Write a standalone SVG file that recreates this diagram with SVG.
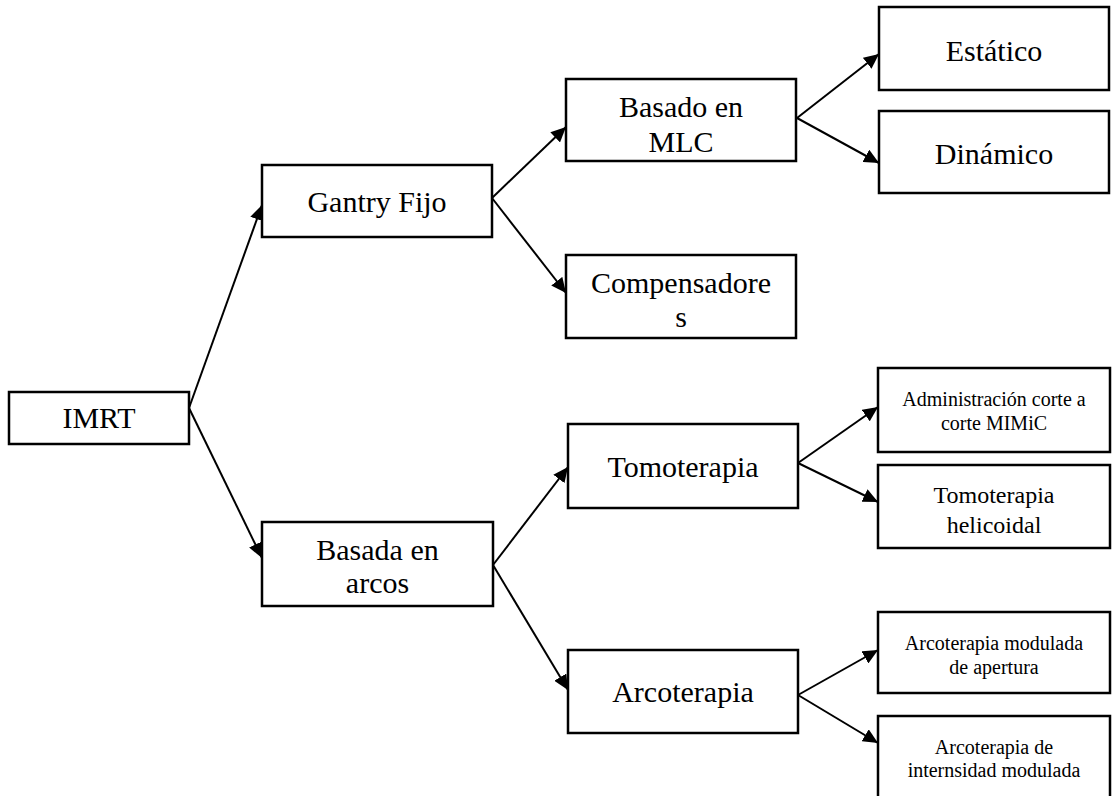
<svg xmlns="http://www.w3.org/2000/svg" width="1113" height="796" viewBox="0 0 1113 796">
  <style>
    .box { fill: #ffffff; stroke: #000000; stroke-width: 2.5; }
    .t30 { font-family: "Liberation Serif", "Times New Roman", serif; font-size: 30px; fill: #000000; text-anchor: middle; }
    .t24 { font-family: "Liberation Serif", "Times New Roman", serif; font-size: 24px; fill: #000000; text-anchor: middle; }
    .t20 { font-family: "Liberation Serif", "Times New Roman", serif; font-size: 20px; fill: #000000; text-anchor: middle; }
    .edge { stroke: #000000; stroke-width: 2; fill: none; marker-end: url(#arrow); }
  </style>
  <defs>
    <marker id="arrow" markerUnits="userSpaceOnUse" markerWidth="16" markerHeight="14" refX="15" refY="7" orient="auto">
      <path d="M0,0 L15,7 L0,14 Z" fill="#000000"/>
    </marker>
  </defs>
  <rect width="1113" height="796" fill="#ffffff"/>

  <g id="connectors">
    <line class="edge" x1="189" y1="408" x2="262" y2="205"/>
    <line class="edge" x1="189" y1="408" x2="262" y2="558"/>
    <line class="edge" x1="492" y1="198" x2="566" y2="127"/>
    <line class="edge" x1="492" y1="198" x2="566" y2="293"/>
    <line class="edge" x1="493" y1="565" x2="568" y2="467"/>
    <line class="edge" x1="493" y1="565" x2="568" y2="690"/>
    <line class="edge" x1="797" y1="118" x2="879" y2="54"/>
    <line class="edge" x1="797" y1="118" x2="879" y2="163"/>
    <line class="edge" x1="798" y1="463" x2="878" y2="407"/>
    <line class="edge" x1="798" y1="463" x2="878" y2="502"/>
    <line class="edge" x1="798" y1="695" x2="878" y2="650"/>
    <line class="edge" x1="798" y1="695" x2="878" y2="743"/>
  </g>

  <g id="imrt">
    <rect class="box" x="9" y="392" width="180" height="52"/>
    <text class="t30" x="99" y="428">IMRT</text>
  </g>
  <g id="gantry-fijo">
    <rect class="box" x="262" y="165" width="230" height="72"/>
    <text class="t30" x="377" y="212">Gantry Fijo</text>
  </g>
  <g id="basada-arcos">
    <rect class="box" x="262" y="522" width="231" height="84"/>
    <text class="t30" x="377.5" y="560">Basada en</text>
    <text class="t30" x="377.5" y="593">arcos</text>
  </g>
  <g id="basado-mlc">
    <rect class="box" x="566" y="79" width="230" height="82"/>
    <text class="t30" x="681" y="117">Basado en</text>
    <text class="t30" x="681" y="152">MLC</text>
  </g>
  <g id="compensadores">
    <rect class="box" x="566" y="255" width="230" height="83"/>
    <text class="t30" x="681" y="293">Compensadore</text>
    <text class="t30" x="681" y="327">s</text>
  </g>
  <g id="tomoterapia">
    <rect class="box" x="568" y="424" width="230" height="84"/>
    <text class="t30" x="683" y="477">Tomoterapia</text>
  </g>
  <g id="arcoterapia">
    <rect class="box" x="568" y="650" width="230" height="83"/>
    <text class="t30" x="683" y="702">Arcoterapia</text>
  </g>
  <g id="estatico">
    <rect class="box" x="879" y="7" width="230" height="83"/>
    <text class="t30" x="994" y="61">Estático</text>
  </g>
  <g id="dinamico">
    <rect class="box" x="879" y="111" width="230" height="82"/>
    <text class="t30" x="994" y="164">Dinámico</text>
  </g>
  <g id="mimic">
    <rect class="box" x="878" y="368" width="232" height="84"/>
    <text class="t20" x="994" y="406">Administración corte a</text>
    <text class="t20" x="994" y="430">corte MIMiC</text>
  </g>
  <g id="helicoidal">
    <rect class="box" x="878" y="465" width="232" height="83"/>
    <text class="t24" x="994" y="503">Tomoterapia</text>
    <text class="t24" x="994" y="533">helicoidal</text>
  </g>
  <g id="arco-apertura">
    <rect class="box" x="878" y="612" width="232" height="81"/>
    <text class="t20" x="994" y="650">Arcoterapia modulada</text>
    <text class="t20" x="994" y="674">de apertura</text>
  </g>
  <g id="arco-intensidad">
    <rect class="box" x="878" y="716" width="232" height="90"/>
    <text class="t20" x="994" y="754">Arcoterapia de</text>
    <text class="t20" x="994" y="777">internsidad modulada</text>
  </g>
</svg>
